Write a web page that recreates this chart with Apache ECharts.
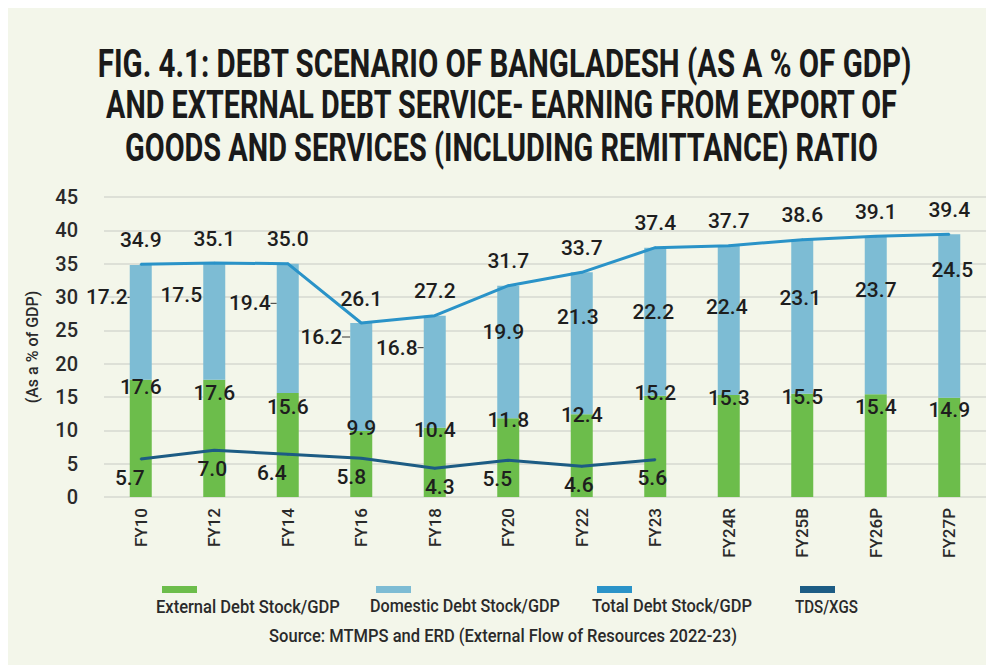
<!DOCTYPE html>
<html>
<head>
<meta charset="utf-8">
<script src="https://cdn.jsdelivr.net/npm/echarts@6/dist/echarts.min.js"></script>
<style>
html,body{margin:0;padding:0;background:#ffffff;}
#wrap{position:relative;width:986px;height:671px;overflow:hidden;background:#ffffff;}
#panel{position:absolute;left:8px;top:8px;right:0;bottom:6px;background:#f3f6ea;}
#chart{position:absolute;left:0;top:0;width:986px;height:671px;}
</style>
</head>
<body>
<div id="wrap"><div id="panel"></div><div id="chart"></div></div>
<script>
// ---- data ----
const categories = ['FY10','FY12','FY14','FY16','FY18','FY20','FY22','FY23','FY24R','FY25B','FY26P','FY27P'];
const externalDebt = [17.6, 17.6, 15.6, 9.9, 10.4, 11.8, 12.4, 15.2, 15.3, 15.5, 15.4, 14.9];
const domesticDebt = [17.2, 17.5, 19.4, 16.2, 16.8, 19.9, 21.3, 22.2, 22.4, 23.1, 23.7, 24.5];
const totalDebt    = [34.9, 35.1, 35.0, 26.1, 27.2, 31.7, 33.7, 37.4, 37.7, 38.6, 39.1, 39.4];
const tdsXgs       = [5.7, 7.0, 6.4, 5.8, 4.3, 5.5, 4.6, 5.6, null, null, null, null];
const yTicks = [0, 5, 10, 15, 20, 25, 30, 35, 40, 45];
const seriesNames = ['External Debt Stock/GDP','Domestic Debt Stock/GDP','Total Debt Stock/GDP','TDS/XGS'];
const titleLines = [
  'FIG. 4.1: DEBT SCENARIO OF BANGLADESH (AS A % OF GDP)',
  'AND EXTERNAL DEBT SERVICE- EARNING FROM EXPORT OF',
  'GOODS AND SERVICES (INCLUDING REMITTANCE) RATIO'
];
const sourceText = 'Source: MTMPS and ERD (External Flow of Resources 2022-23)';
const yAxisName = '(As a % of GDP)';

// ---- label placement (style, not data) ----
const domOffsets = [[-34,-25],[-33,-26],[-38,-25],[-40,-40],[-38,-24],[-5,-20],[-4,-26],[-2,-10],[-2,-13],[-2,-19],[0,-25],[3,-46]];
const domLeader  = [true,false,true,true,true,false,false,false,false,false,false,false];
const extOffsets = [7,13,14,-3,2,2,1,-3,3,3,13,12];
const tdsOffsets = [-11,-2,-16,-10,5,-11,-3,-3];

const FONT = 'Roboto, "Liberation Sans", sans-serif';
const colors = {green:'#6cbd4b', light:'#7dbcd4', total:'#2a93c8', tds:'#1c5c84'};
const labelText = {fontFamily: FONT, fontSize: 21, fontWeight: 500, color: '#1e1e1e'};
const fmt1 = p => Number(p.value).toFixed(1);

// text measurement to compress to the condensed widths of the reference
const mctx = document.createElement('canvas').getContext('2d');
function tw(text, font){ mctx.font = font; return mctx.measureText(text).width; }

const titleFont = 'bold 38px Roboto';
const titleBoxes = [[97, 912, 64], [105, 898, 105], [125, 878, 148]];
const titleGraphics = titleLines.map((t, i) => {
  const [x0, x1, yc] = titleBoxes[i];
  return {
    type: 'text', x: (x0 + x1) / 2, y: yc, scaleX: (x1 - x0) / tw(t, titleFont),
    style: {text: t, font: titleFont, fill: '#1a1a1a', align: 'center', verticalAlign: 'middle'}
  };
});

const legFont = '500 19px Roboto';
const legendBoxes = [[156, 340], [370, 560], [592, 752], [795, 858]];
const legendTextGraphics = seriesNames.map((n, i) => {
  const [x0, x1] = legendBoxes[i];
  return {
    type: 'text', x: x0, y: 606, scaleX: (x1 - x0) / tw(n, legFont),
    style: {text: n, font: legFont, fill: '#2a2a2a', align: 'left', verticalAlign: 'middle'}
  };
});
const sourceGraphic = {
  type: 'text', x: 503, y: 635, scaleX: (738 - 270) / tw(sourceText, legFont),
  style: {text: sourceText, font: legFont, fill: '#2a2a2a', align: 'center', verticalAlign: 'middle'}
};

const chart = echarts.init(document.getElementById('chart'), null, {renderer:'svg', width:986, height:671});

const legendLefts = [157, 371, 592, 795];
const legends = seriesNames.map((n, i) => ({
  data: [{name: n, icon: 'rect'}],
  left: legendLefts[i], top: 581,
  itemWidth: 35, itemHeight: 7, itemGap: 0,
  formatter: () => '',
  selectedMode: false,
  textStyle: {fontSize: 1}
}));

const option = {
  backgroundColor: 'transparent',
  animation: false,
  legend: legends,
  graphic: [...titleGraphics, ...legendTextGraphics, sourceGraphic],
  grid: {left: 104, right: 0, top: 197, bottom: 174, containLabel: false},
  xAxis: {
    type: 'category', data: categories,
    axisLine: {show: false}, axisTick: {show: false},
    axisLabel: {rotate: 90, margin: 11, fontFamily: FONT, fontSize: 17, fontWeight: 500, color: '#2a2a2a'}
  },
  yAxis: {
    type: 'value', min: yTicks[0], max: yTicks[yTicks.length-1], interval: 5,
    name: yAxisName, nameLocation: 'middle', nameRotate: 90, nameGap: 64,
    nameTextStyle: {fontFamily: FONT, fontSize: 16, fontWeight: 500, color: '#2a2a2a'},
    axisLine: {show: false}, axisTick: {show: false},
    axisLabel: {margin: 26, fontFamily: FONT, fontSize: 20, fontWeight: 500, color: '#2a2a2a'},
    splitLine: {lineStyle: {color: '#d6d9d0', width: 1.5}}
  },
  series: [
    {
      name: seriesNames[0], type: 'bar', stack: 'debt', barWidth: 22,
      itemStyle: {color: colors.green},
      data: externalDebt,
      label: {show: true, position: ['50%', 0], align: 'center', verticalAlign: 'middle', formatter: fmt1, ...labelText},
      labelLayout: p => ({dy: extOffsets[p.dataIndex]}),
      z: 2
    },
    {
      name: seriesNames[1], type: 'bar', stack: 'debt', barWidth: 22,
      itemStyle: {color: colors.light},
      data: domesticDebt.map((v, i) => ({value: v, labelLine: {show: domLeader[i]}})),
      label: {show: true, position: 'inside', formatter: fmt1, ...labelText},
      labelLine: {show: false, lineStyle: {color: '#333', width: 1}},
      labelLayout: p => ({dx: domOffsets[p.dataIndex][0], dy: domOffsets[p.dataIndex][1]}),
      z: 2
    },
    {
      name: seriesNames[2], type: 'line', data: totalDebt,
      symbol: 'circle', symbolSize: 2, showSymbol: true,
      itemStyle: {color: colors.total},
      lineStyle: {color: colors.total, width: 3},
      label: {show: true, position: 'top', distance: 13, formatter: fmt1, ...labelText},
      z: 3
    },
    {
      name: seriesNames[3], type: 'line', data: tdsXgs,
      symbol: 'circle', symbolSize: 2, showSymbol: true,
      itemStyle: {color: colors.tds},
      lineStyle: {color: colors.tds, width: 3},
      label: {show: true, position: 'bottom', distance: 7, formatter: fmt1, ...labelText},
      labelLayout: p => ({dx: tdsOffsets[p.dataIndex] || 0}),
      z: 3
    }
  ]
};
chart.setOption(option);
</script>
</body>
</html>
